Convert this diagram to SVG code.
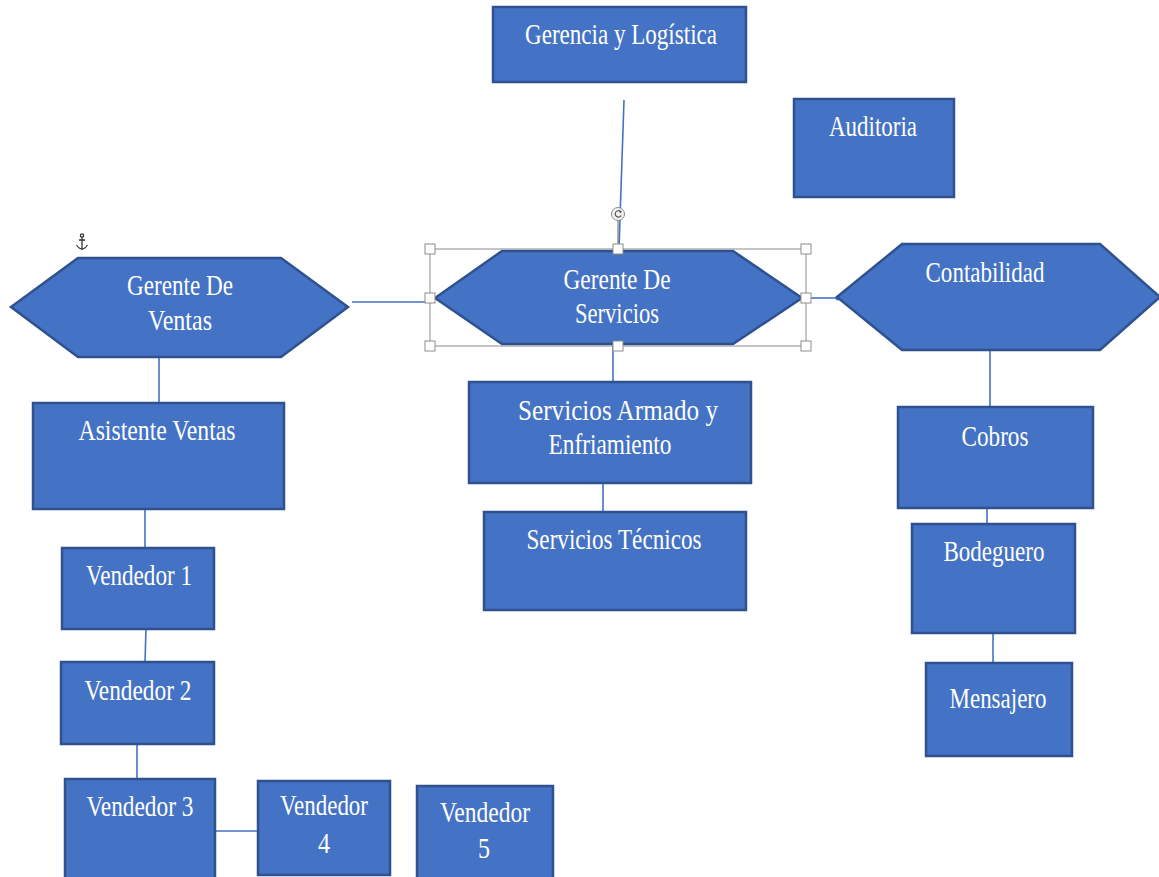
<svg xmlns="http://www.w3.org/2000/svg" width="1159" height="877" viewBox="0 0 1159 877">
<style>
.box{fill:#4472C4;stroke:#2F528F;stroke-width:2.5}
.t{font-family:'Liberation Serif','DejaVu Serif',serif;font-size:30px;fill:#ffffff;text-anchor:middle}
.c{stroke:#4472C4;stroke-width:1.6;fill:none}
.h{fill:#ffffff;stroke:#8c8c8c;stroke-width:1}
</style>
<rect width="1159" height="877" fill="#ffffff"/>
<g id="connectors">
<path class="c" d="M624,100 L619,248"/>
<path class="c" d="M352,302 L432,302"/>
<path class="c" d="M806,298 L838,298"/>
<circle cx="838" cy="298" r="2.5" fill="#4472C4"/>
<path class="c" d="M990,350 L990,407"/>
<path class="c" d="M987,508 L987,524"/>
<path class="c" d="M993,633 L993,663"/>
<path class="c" d="M613,346 L613,382"/>
<path class="c" d="M603,483 L603,512"/>
<path class="c" d="M159,357 L159,403"/>
<path class="c" d="M145,509 L145,548"/>
<path class="c" d="M146,629 L145,662"/>
<path class="c" d="M137,744 L137,779"/>
<path class="c" d="M215,831 L258,831"/>
</g>
<g id="gerencia">
<rect class="box" x="493" y="7" width="253" height="75"/>
<text class="t" x="621" y="44" textLength="192" lengthAdjust="spacingAndGlyphs">Gerencia y Logística</text>
</g>
<g id="auditoria">
<rect class="box" x="794" y="99" width="160" height="98"/>
<text class="t" x="873" y="136" textLength="88" lengthAdjust="spacingAndGlyphs">Auditoria</text>
</g>
<g id="gerente-ventas">
<polygon class="box" points="11,307 78,258 281,258 348,307 281,357 78,357"/>
<text class="t" x="180" y="295" textLength="106" lengthAdjust="spacingAndGlyphs">Gerente De</text>
<text class="t" x="180" y="330" textLength="64" lengthAdjust="spacingAndGlyphs">Ventas</text>
</g>
<g id="anchor-icon" fill="none" stroke="#333" stroke-width="1.3">
<circle cx="82" cy="235.5" r="1.6"/>
<path d="M82,237 L82,250 M76.5,245 Q82,253 87.5,245 M79,240 L85,240"/>
</g>
<g id="gerente-servicios">
<polygon class="box" points="435,298 502,251 733,251 802,298 733,344 502,344"/>
<text class="t" x="617" y="289" textLength="107" lengthAdjust="spacingAndGlyphs">Gerente De</text>
<text class="t" x="617" y="323" textLength="84" lengthAdjust="spacingAndGlyphs">Servicios</text>
</g>
<g id="selection">
<rect x="430" y="249" width="376" height="97" fill="none" stroke="#8c8c8c" stroke-width="1"/>
<line x1="618" y1="220" x2="618" y2="249" stroke="#666" stroke-width="1"/>
<circle cx="618" cy="214" r="6.5" fill="#f2f2f2" stroke="#888" stroke-width="1"/>
<path d="M620.5,211.5 A3.2,3.2 0 1 0 621.2,215.5" fill="none" stroke="#555" stroke-width="1.2"/>
<path d="M619.5,210 L622,211.8 L619.8,213.5 Z" fill="#555"/>
<rect class="h" x="425" y="244" width="10" height="10"/>
<rect class="h" x="613" y="244" width="10" height="10"/>
<rect class="h" x="801" y="244" width="10" height="10"/>
<rect class="h" x="425" y="293" width="10" height="10"/>
<rect class="h" x="801" y="293" width="10" height="10"/>
<rect class="h" x="425" y="341" width="10" height="10"/>
<rect class="h" x="613" y="341" width="10" height="10"/>
<rect class="h" x="801" y="341" width="10" height="10"/>
</g>
<g id="contabilidad">
<polygon class="box" points="837,297 902,244 1100,244 1160,297 1100,350 902,350"/>
<text class="t" x="985" y="282" textLength="119" lengthAdjust="spacingAndGlyphs">Contabilidad</text>
</g>
<g id="cobros">
<rect class="box" x="898" y="407" width="195" height="101"/>
<text class="t" x="995" y="446" textLength="67" lengthAdjust="spacingAndGlyphs">Cobros</text>
</g>
<g id="bodeguero">
<rect class="box" x="912" y="524" width="163" height="109"/>
<text class="t" x="994" y="561" textLength="101" lengthAdjust="spacingAndGlyphs">Bodeguero</text>
</g>
<g id="mensajero">
<rect class="box" x="926" y="663" width="146" height="93"/>
<text class="t" x="998" y="708" textLength="97" lengthAdjust="spacingAndGlyphs">Mensajero</text>
</g>
<g id="servicios-armado">
<rect class="box" x="469" y="382" width="282" height="101"/>
<text class="t" x="618" y="420" textLength="200" lengthAdjust="spacingAndGlyphs">Servicios Armado y</text>
<text class="t" x="610" y="454" textLength="123" lengthAdjust="spacingAndGlyphs">Enfriamiento</text>
</g>
<g id="servicios-tecnicos">
<rect class="box" x="484" y="512" width="262" height="98"/>
<text class="t" x="614" y="549" textLength="175" lengthAdjust="spacingAndGlyphs">Servicios Técnicos</text>
</g>
<g id="asistente-ventas">
<rect class="box" x="33" y="403" width="251" height="106"/>
<text class="t" x="157" y="440" textLength="157" lengthAdjust="spacingAndGlyphs">Asistente Ventas</text>
</g>
<g id="vendedor1">
<rect class="box" x="62" y="548" width="152" height="81"/>
<text class="t" x="139" y="585" textLength="106" lengthAdjust="spacingAndGlyphs">Vendedor 1</text>
</g>
<g id="vendedor2">
<rect class="box" x="61" y="662" width="153" height="82"/>
<text class="t" x="138" y="700" textLength="107" lengthAdjust="spacingAndGlyphs">Vendedor 2</text>
</g>
<g id="vendedor3">
<rect class="box" x="65" y="779" width="150" height="110"/>
<text class="t" x="140" y="816" textLength="107" lengthAdjust="spacingAndGlyphs">Vendedor 3</text>
</g>
<g id="vendedor4">
<rect class="box" x="258" y="781" width="132" height="94"/>
<text class="t" x="324" y="815" textLength="88" lengthAdjust="spacingAndGlyphs">Vendedor</text>
<text class="t" x="324" y="853" textLength="12" lengthAdjust="spacingAndGlyphs">4</text>
</g>
<g id="vendedor5">
<rect class="box" x="417" y="786" width="136" height="100"/>
<text class="t" x="485" y="822" textLength="90" lengthAdjust="spacingAndGlyphs">Vendedor</text>
<text class="t" x="484" y="858" textLength="12" lengthAdjust="spacingAndGlyphs">5</text>
</g>
</svg>
